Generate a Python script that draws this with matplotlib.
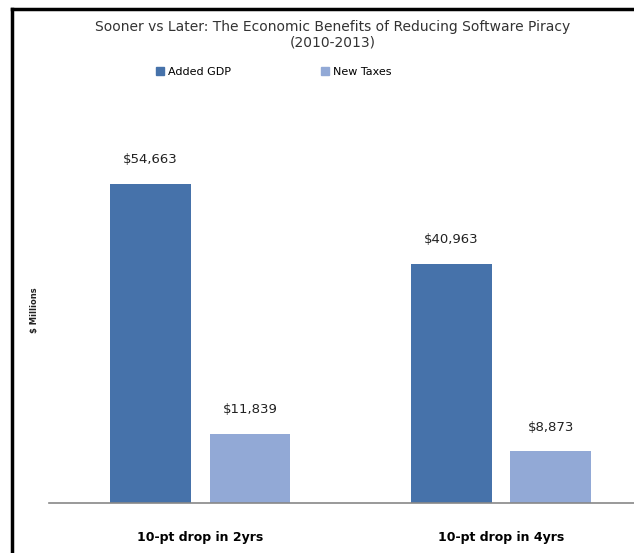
import numpy as np
import matplotlib.pyplot as plt
from matplotlib.lines import Line2D

# Données
categories = ["10-pt drop in 2yrs", "10-pt drop in 4yrs"]
series = ["Added GDP", "New Taxes"]
added_gdp = [54663, 40963]
new_taxes = [11839, 8873]
colors = ["#4672AA", "#92A9D6"]

fig = plt.figure(figsize=(6.34, 5.53), dpi=100)
ax = fig.add_axes([49 / 634, 1 - 503 / 553, 1 - 49 / 634, (503 - 100) / 553])

x = np.arange(len(categories))
offset = 0.166
width = 0.269

bars1 = ax.bar(x - offset, added_gdp, width, color=colors[0], label=series[0])
bars2 = ax.bar(x + offset, new_taxes, width, color=colors[1], label=series[1])

# Étiquettes de valeur
for bars in (bars1, bars2):
    for b in bars:
        ax.text(b.get_x() + b.get_width() / 2, b.get_height() + 3000,
                f"${b.get_height():,.0f}", ha="center", va="bottom",
                fontsize=9.5, color="#222222")

ax.set_xlim(-0.502, 1.442)
ax.set_ylim(0, 69057)
ax.set_xticks(x)
ax.set_xticklabels(categories, fontsize=9, fontweight="bold")
ax.tick_params(axis="x", length=0, pad=20)
ax.set_yticks([])
for side in ("top", "right", "left"):
    ax.spines[side].set_visible(False)
ax.spines["bottom"].set_color("#888888")
ax.spines["bottom"].set_linewidth(1.2)

# Titre et légende
fig.text(333 / 634, 1 - 27 / 553,
         "Sooner vs Later: The Economic Benefits of Reducing Software Piracy",
         ha="center", va="center", fontsize=10, color="#333333")
fig.text(333 / 634, 1 - 43 / 553, "(2010-2013)", ha="center", va="center",
         fontsize=10, color="#333333")

handles = [Line2D([], [], marker="s", linestyle="", markersize=5.5, color=c) for c in colors]
fig.legend(handles, series, loc="center", bbox_to_anchor=(273 / 634, 1 - 72 / 553),
           ncol=2, frameon=False, columnspacing=8.0,
           handletextpad=0.2, handlelength=1.0, prop={"size": 8})

fig.text(35 / 634, 1 - 310 / 553, "$ Millions", rotation=90, ha="center",
         va="center", fontsize=6, fontweight="bold", color="#222222")

# Cadre noir
fig.add_artist(Line2D([12 / 634, 12 / 634], [0, 1 - 9 / 553], color="black", linewidth=2.5))
fig.add_artist(Line2D([12 / 634, 1], [1 - 9 / 553, 1 - 9 / 553], color="black", linewidth=2.5))

plt.savefig("out.png", dpi=100)
plt.close()
